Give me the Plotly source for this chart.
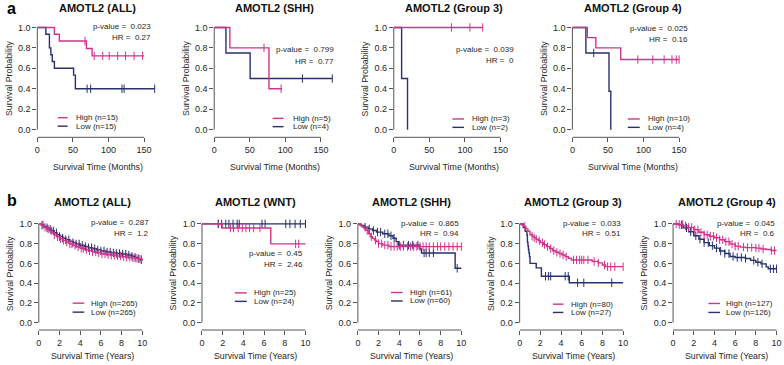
import plotly.graph_objects as go

# ---------------- data ----------------
TITLES = ["AMOTL2 (ALL)", "AMOTL2 (SHH)", "AMOTL2 (Group 3)", "AMOTL2 (Group 4)",
          "AMOTL2 (ALL)", "AMOTL2 (WNT)", "AMOTL2 (SHH)", "AMOTL2 (Group 3)", "AMOTL2 (Group 4)"]
PVALUES = ["0.023", "0.799", "0.039", "0.025", "0.287", "0.45", "0.865", "0.033", "0.045"]
HRS = ["0.27", "0.77", "0", "0.16", "1.2", "2.46", "0.94", "0.51", "0.6"]
N_HIGH = [15, 5, 3, 10, 265, 25, 61, 80, 127]
N_LOW = [15, 4, 2, 4, 265, 24, 60, 27, 126]
MONTH_TICKS = [0, 50, 100, 150]
YEAR_TICKS = [0, 2, 4, 6, 8, 10]
PROB_TICKS = [0, 0.2, 0.4, 0.6, 0.8, 1.0]

# panel a1: ALL (months)
A1_HIGH_T = [0, 24, 31, 69, 77, 150]
A1_HIGH_S = [1, 0.933, 0.867, 0.794, 0.722, 0.722]
A1_HIGH_C = [67, 80, 92, 101, 113, 124, 136, 148]
A1_LOW_T = [0, 12, 17, 19, 21, 24, 51, 53.5, 165]
A1_LOW_S = [1, 0.933, 0.8, 0.733, 0.667, 0.6, 0.533, 0.4, 0.4]
A1_LOW_C = [70, 75, 119, 122, 165]
# panel a2: SHH (months)
A2_HIGH_T = [0, 22, 77, 95]
A2_HIGH_S = [1, 0.8, 0.4, 0.4]
A2_HIGH_C = [70, 94]
A2_LOW_T = [0, 16.5, 50.5, 166]
A2_LOW_S = [1, 0.75, 0.5, 0.5]
A2_LOW_C = [124, 166]
# panel a3: Group 3 (months)
A3_HIGH_T = [0, 125]
A3_HIGH_S = [1, 1]
A3_HIGH_C = [81, 107, 125]
A3_LOW_T = [0, 11, 19.3]
A3_LOW_S = [1, 0.5, 0]
A3_LOW_C = []
# panel a4: Group 4 (months)
A4_HIGH_T = [0, 21, 33, 68, 150]
A4_HIGH_S = [1, 0.9, 0.8, 0.686, 0.686]
A4_HIGH_C = [92, 113, 129, 140, 146, 150]
A4_LOW_T = [0, 19, 51.5, 54]
A4_LOW_S = [1, 0.75, 0.375, 0]
A4_LOW_C = [30]

# panel b1: ALL (years)
B1_HIGH_T = [0, 0.25, 0.5, 0.75, 1.0, 1.25, 1.5, 1.75, 2.0, 2.3, 2.6, 3.0, 3.3, 3.6, 4.0,
             4.4, 4.8, 5.2, 5.6, 6.0, 6.5, 7.0, 7.5, 8.0, 8.5, 9.0, 9.3, 9.6, 9.8, 10.0]
B1_HIGH_S = [1, 0.985, 0.965, 0.948, 0.93, 0.91, 0.888, 0.868, 0.85, 0.833, 0.817, 0.797,
             0.783, 0.768, 0.752, 0.74, 0.728, 0.716, 0.706, 0.697, 0.69, 0.682, 0.675,
             0.668, 0.662, 0.656, 0.652, 0.647, 0.643, 0.64]
B1_HIGH_C = [0.3, 0.6, 0.9, 1.2, 1.5, 1.8, 2.1, 2.4, 2.7, 3.0, 3.2, 3.5, 3.8, 4.1, 4.3, 4.6,
             4.9, 5.2, 5.5, 5.8, 6.1, 6.4, 6.7, 7.0, 7.3, 7.6, 7.9, 8.2, 8.5, 8.8, 9.1, 9.4,
             9.7, 9.9]
B1_LOW_T = [0, 0.25, 0.5, 0.75, 1.0, 1.25, 1.5, 1.75, 2.0, 2.3, 2.6, 3.0, 3.3, 3.6, 4.0,
            4.4, 4.8, 5.2, 5.6, 6.0, 6.5, 7.0, 7.5, 8.0, 8.5, 9.0, 9.3, 9.6, 9.8, 10.0]
B1_LOW_S = [1, 0.99, 0.975, 0.96, 0.945, 0.93, 0.91, 0.89, 0.872, 0.855, 0.84, 0.823, 0.81,
            0.797, 0.782, 0.77, 0.758, 0.748, 0.737, 0.726, 0.715, 0.706, 0.70, 0.695,
            0.685, 0.672, 0.66, 0.648, 0.635, 0.63]
B1_LOW_C = [0.4, 0.8, 1.1, 1.4, 1.7, 2.0, 2.3, 2.6, 2.9, 3.3, 3.6, 3.9, 4.2, 4.5, 4.8, 5.1,
            5.4, 5.7, 6.0, 6.3, 6.6, 6.9, 7.2, 7.5, 7.8, 8.1, 8.4, 8.7, 9.0, 9.3, 9.6, 9.9]
# panel b2: WNT (years)
B2_HIGH_T = [0, 1.95, 6.65, 10.0]
B2_HIGH_S = [1, 0.958, 0.798, 0.798]
B2_HIGH_C = [1.55, 2.75, 3.05, 3.5, 3.9, 4.25, 4.6, 5.0, 5.6, 9.05, 9.35]
B2_LOW_T = [0, 10.0]
B2_LOW_S = [1, 1]
B2_LOW_C = [1.6, 1.9, 2.3, 2.6, 3.0, 3.4, 3.6, 5.8, 6.1, 8.1, 8.5, 9.0, 9.5, 10.0]
# panel b3: SHH (years)
B3_HIGH_T = [0, 0.2, 0.4, 0.6, 0.8, 1.0, 1.2, 1.4, 1.6, 1.8, 2.0, 2.4, 3.0, 10.0]
B3_HIGH_S = [1, 0.984, 0.967, 0.951, 0.934, 0.90, 0.87, 0.853, 0.836, 0.82, 0.80, 0.785,
             0.77, 0.77]
B3_HIGH_C = [0.9, 1.3, 1.7, 2.0, 2.3, 2.6, 2.9, 3.2, 3.5, 3.8, 4.1, 4.4, 4.8, 5.1, 5.4, 5.7,
             6.0, 6.3, 6.6, 6.9, 7.3, 7.7, 8.0, 8.4, 8.8, 9.2, 9.6, 10.0]
B3_LOW_T = [0, 0.3, 0.6, 1.0, 1.4, 1.8, 2.4, 3.0, 3.4, 3.7, 3.9, 6.0, 6.15, 9.4, 10.0]
B3_LOW_S = [1, 0.983, 0.967, 0.95, 0.933, 0.917, 0.90, 0.88, 0.855, 0.82, 0.785, 0.745,
            0.705, 0.55, 0.55]
B3_LOW_C = [0.7, 1.1, 1.5, 1.9, 2.2, 2.6, 2.9, 3.2, 3.5, 4.0, 4.4, 4.9, 5.3, 5.8, 6.4, 6.6,
            6.9, 7.3, 9.6]
# panel b4: Group 3 (years)
B4_HIGH_T = [0, 0.2, 0.4, 0.6, 0.8, 1.0, 1.2, 1.4, 1.6, 1.8, 2.0, 2.3, 2.6, 2.9, 3.2, 3.5,
             3.8, 4.1, 4.4, 4.7, 5.0, 7.0, 7.6, 8.0, 8.3, 10.0]
B4_HIGH_S = [1, 0.987, 0.975, 0.95, 0.925, 0.89, 0.875, 0.86, 0.845, 0.83, 0.81, 0.79, 0.77,
             0.75, 0.728, 0.712, 0.70, 0.685, 0.668, 0.652, 0.635, 0.62, 0.605, 0.583,
             0.567, 0.567]
B4_HIGH_C = [0.5, 1.2, 1.4, 1.6, 1.9, 2.2, 2.4, 2.7, 3.0, 3.3, 3.6, 3.9, 4.2, 4.5, 5.2, 5.5,
             5.8, 6.0, 6.2, 6.6, 7.2, 7.6, 8.2, 8.5, 8.8, 9.2, 10.0]
B4_LOW_T = [0, 0.35, 0.55, 0.7, 0.75, 0.8, 0.85, 0.9, 0.95, 1.0, 1.6, 2.1, 4.8, 10.0]
B4_LOW_S = [1, 0.963, 0.926, 0.889, 0.815, 0.778, 0.741, 0.704, 0.667, 0.60, 0.554, 0.47,
            0.404, 0.404]
B4_LOW_C = [2.5, 2.8, 3.0, 4.4, 4.7, 5.6, 6.2, 8.9]
# panel b5: Group 4 (years)
B5_HIGH_T = [0, 0.5, 1.0, 1.5, 2.0, 2.5, 3.0, 3.5, 4.0, 4.5, 5.0, 5.5, 6.0, 6.5, 7.0, 8.0,
             8.5, 9.0, 9.5, 10.0]
B5_HIGH_S = [1, 0.995, 0.98, 0.965, 0.94, 0.915, 0.89, 0.875, 0.86, 0.84, 0.82, 0.795, 0.775,
             0.765, 0.76, 0.755, 0.745, 0.74, 0.73, 0.73]
B5_HIGH_C = [0.3, 0.6, 0.9, 1.2, 1.5, 1.8, 2.1, 2.4, 2.7, 3.0, 3.3, 3.6, 3.9, 4.2, 4.5, 4.8,
             5.1, 5.4, 5.7, 6.0, 6.3, 6.8, 7.2, 7.6, 8.0, 8.3, 8.7, 9.5, 9.8]
B5_LOW_T = [0, 0.5, 1.0, 1.5, 2.0, 2.5, 3.0, 3.5, 4.0, 4.5, 5.0, 5.5, 6.0, 7.0, 7.5, 8.0,
            8.5, 9.0, 9.2, 10.0]
B5_LOW_S = [1, 0.99, 0.96, 0.92, 0.88, 0.845, 0.81, 0.78, 0.755, 0.725, 0.70, 0.67, 0.66,
            0.65, 0.63, 0.612, 0.595, 0.565, 0.545, 0.545]
B5_LOW_C = [0.8, 1.3, 1.7, 2.2, 2.6, 3.0, 3.4, 3.8, 4.2, 4.6, 5.0, 5.4, 5.8, 6.2, 6.6, 7.0,
            7.8, 8.2, 8.6, 9.4, 9.7, 10.0]

HIGH_CURVES = [(A1_HIGH_T, A1_HIGH_S, A1_HIGH_C), (A2_HIGH_T, A2_HIGH_S, A2_HIGH_C),
               (A3_HIGH_T, A3_HIGH_S, A3_HIGH_C), (A4_HIGH_T, A4_HIGH_S, A4_HIGH_C),
               (B1_HIGH_T, B1_HIGH_S, B1_HIGH_C), (B2_HIGH_T, B2_HIGH_S, B2_HIGH_C),
               (B3_HIGH_T, B3_HIGH_S, B3_HIGH_C), (B4_HIGH_T, B4_HIGH_S, B4_HIGH_C),
               (B5_HIGH_T, B5_HIGH_S, B5_HIGH_C)]
LOW_CURVES = [(A1_LOW_T, A1_LOW_S, A1_LOW_C), (A2_LOW_T, A2_LOW_S, A2_LOW_C),
              (A3_LOW_T, A3_LOW_S, A3_LOW_C), (A4_LOW_T, A4_LOW_S, A4_LOW_C),
              (B1_LOW_T, B1_LOW_S, B1_LOW_C), (B2_LOW_T, B2_LOW_S, B2_LOW_C),
              (B3_LOW_T, B3_LOW_S, B3_LOW_C), (B4_LOW_T, B4_LOW_S, B4_LOW_C),
              (B5_LOW_T, B5_LOW_S, B5_LOW_C)]

# ---------------- layout (pixels) ----------------
W, H = 784, 365
FONT = "Liberation Sans"
HIGH_COLOR = "#D1338B"
LOW_COLOR = "#28306E"
AXIS_COLOR = "#555555"
TEXT_COLOR = "#262626"
TICK_SIZE = 9
LABEL_SIZE = 8.8
NOTE_SIZE = 8
TITLE_SIZE = 11

# row geometry: pixel of y=1, pixel of y=0
ROW_Y1 = [26.5, 223.5]
ROW_Y0 = [129.0, 322.5]
Y_RANGE = [-0.075, 1.04]

# per-panel: row, x pixel of t=0, px per unit, range max
GEOM = [
    (0, 34.5, 0.715, 170), (0, 212.3, 0.715, 170), (0, 392.8, 0.715, 170), (0, 572.3, 0.715, 170),
    (1, 36.0, 10.4, 10.4), (1, 200.0, 10.4, 10.4), (1, 356.7, 10.4, 10.4), (1, 519.3, 10.4, 10.4),
    (1, 673.5, 10.4, 10.4),
]
# p-value right x, p-value y, HR y
PTEXT = [(151, 26, 37), (335, 48.5, 60.5), (516, 48.5, 60), (691, 27.5, 38.5),
         (148.5, 222, 233), (303.5, 252.7, 264), (460, 223, 233.5), (622.7, 223, 233.5),
         (778, 223, 233.5)]
# legend line x0, x1, text x, high y, low y
LEG = [(55, 65, 71.5, 117, 125.5), (271, 282, 289, 117.7, 126), (451.7, 463.3, 469.3, 118.3, 126.7),
       (628, 640, 646.7, 118.3, 126.7), (70, 81.7, 86.7, 303, 312), (233, 245, 250.7, 292.7, 301.2),
       (390, 401.7, 406.7, 292.3, 300.8), (552.7, 563.3, 569, 304, 312.3),
       (709, 720.7, 725, 303.3, 312.3)]
TITLE_Y = [7, 202]
XTITLE_Y = [166, 356]
XTITLES = ["Survival Time (Months)", "Survival Time (Years)"]


def fx(px):
    return px / W


def fy(py):
    return 1 - py / H


def surv_at(T, S, t):
    y = S[0]
    for ti, si in zip(T, S):
        if ti <= t:
            y = si
    return y


fig = go.Figure()
shapes = []
annotations = []
layout = {}

for i in range(9):
    row, x0px, ppu, xmax = GEOM[i]
    sfx = "" if i == 0 else str(i + 1)
    xa, ya = "x" + sfx, "y" + sfx
    y1px, y0px = ROW_Y1[row], ROW_Y0[row]
    ppy = y0px - y1px
    top_px = y1px - (Y_RANGE[1] - 1) * ppy
    bot_px = y0px - Y_RANGE[0] * ppy
    x_end_px = min(x0px + xmax * ppu, W)
    xmax_eff = (x_end_px - x0px) / ppu
    xticks = MONTH_TICKS if row == 0 else YEAR_TICKS

    layout["xaxis" + sfx] = dict(
        domain=[fx(x0px), fx(x_end_px)], range=[0, xmax_eff], anchor=ya,
        tickvals=xticks, ticks="outside", ticklen=4, tickwidth=1, tickcolor=AXIS_COLOR,
        showline=False, showgrid=False, zeroline=False, fixedrange=True,
        ticklabeloverflow="allow",
        tickfont=dict(family=FONT, size=TICK_SIZE, color=TEXT_COLOR))
    layout["yaxis" + sfx] = dict(
        domain=[fy(bot_px), fy(top_px)], range=Y_RANGE, anchor=xa,
        tickvals=PROB_TICKS, tickformat=".1f", ticks="outside", ticklen=4, tickwidth=1,
        tickcolor=AXIS_COLOR, showline=False, showgrid=False, zeroline=False, fixedrange=True,
        ticklabeloverflow="allow",
        tickfont=dict(family=FONT, size=TICK_SIZE, color=TEXT_COLOR))

    # R-style axis lines spanning the tick range
    shapes.append(dict(type="line", xref=xa + " domain", yref=ya, x0=0, x1=0, y0=0, y1=1,
                       line=dict(color=AXIS_COLOR, width=1)))
    shapes.append(dict(type="line", xref=xa, yref=ya + " domain", x0=xticks[0], x1=xticks[-1],
                       y0=0, y1=0, line=dict(color=AXIS_COLOR, width=1)))

    for (T, S, C), color in ((LOW_CURVES[i], LOW_COLOR), (HIGH_CURVES[i], HIGH_COLOR)):
        fig.add_trace(go.Scatter(x=T, y=S, mode="lines", xaxis=xa, yaxis=ya,
                                 line=dict(color=color, width=1.4, shape="hv"),
                                 showlegend=False, hoverinfo="skip"))
        if C:
            fig.add_trace(go.Scatter(x=C, y=[surv_at(T, S, c) for c in C], mode="markers",
                                     xaxis=xa, yaxis=ya, cliponaxis=False,
                                     marker=dict(symbol="line-ns", size=6, color=color,
                                                 line=dict(color=color, width=1)),
                                     showlegend=False, hoverinfo="skip"))

    cx = x0px + (xmax * ppu) / 2
    # title
    annotations.append(dict(text="<b>" + TITLES[i] + "</b>", x=fx(cx), y=fy(TITLE_Y[row]),
                            xref="paper", yref="paper", showarrow=False, xanchor="center",
                            yanchor="middle", font=dict(family=FONT, size=TITLE_SIZE, color="#111111")))
    # x title
    annotations.append(dict(text=XTITLES[row], x=fx(cx), y=fy(XTITLE_Y[row]), xref="paper",
                            yref="paper", showarrow=False, xanchor="center", yanchor="middle",
                            font=dict(family=FONT, size=LABEL_SIZE, color=TEXT_COLOR)))
    # y title
    annotations.append(dict(text="Survival Probability", x=fx(x0px - 29),
                            y=fy((y1px + y0px) / 2), xref="paper", yref="paper",
                            showarrow=False, textangle=-90, xanchor="center", yanchor="middle",
                            font=dict(family=FONT, size=LABEL_SIZE, color=TEXT_COLOR)))
    # p-value / HR
    px_r, py_p, py_h = PTEXT[i]
    annotations.append(dict(text="p-value =  " + PVALUES[i], x=fx(px_r), y=fy(py_p),
                            xref="paper", yref="paper", showarrow=False, xanchor="right",
                            yanchor="middle", font=dict(family=FONT, size=NOTE_SIZE, color=TEXT_COLOR)))
    annotations.append(dict(text="HR =  " + HRS[i], x=fx(px_r), y=fy(py_h),
                            xref="paper", yref="paper", showarrow=False, xanchor="right",
                            yanchor="middle", font=dict(family=FONT, size=NOTE_SIZE, color=TEXT_COLOR)))
    # legend
    lx0, lx1, tx, hy, ly = LEG[i]
    for yy, color, lab in ((hy, HIGH_COLOR, "High (n=%d)" % N_HIGH[i]),
                           (ly, LOW_COLOR, "Low (n=%d)" % N_LOW[i])):
        shapes.append(dict(type="line", xref="paper", yref="paper", x0=fx(lx0), x1=fx(lx1),
                           y0=fy(yy), y1=fy(yy), line=dict(color=color, width=1.4)))
        annotations.append(dict(text=lab, x=fx(tx), y=fy(yy), xref="paper", yref="paper",
                                showarrow=False, xanchor="left", yanchor="middle",
                                font=dict(family=FONT, size=NOTE_SIZE, color=TEXT_COLOR)))

# panel letters
annotations.append(dict(text="<b>a</b>", x=fx(8.5), y=fy(8), xref="paper", yref="paper",
                        showarrow=False, xanchor="center", yanchor="middle",
                        font=dict(family=FONT, size=16, color="#000000")))
annotations.append(dict(text="<b>b</b>", x=fx(9), y=fy(200), xref="paper", yref="paper",
                        showarrow=False, xanchor="center", yanchor="middle",
                        font=dict(family=FONT, size=16, color="#000000")))

fig.update_layout(width=W, height=H, margin=dict(l=0, r=0, t=0, b=0),
                  paper_bgcolor="white", plot_bgcolor="white", showlegend=False,
                  shapes=shapes, annotations=annotations, **layout)
fig.write_html("out.html", config={"displayModeBar": False},
               post_script="document.body.style.margin='0';")
